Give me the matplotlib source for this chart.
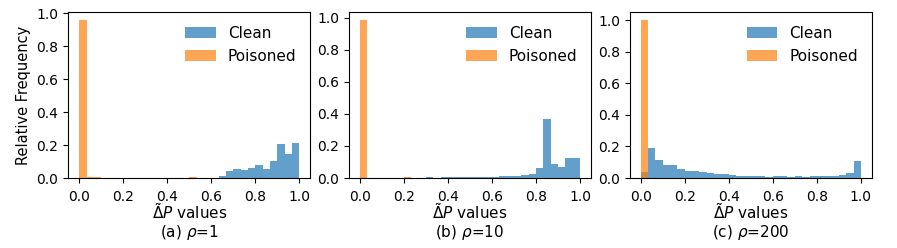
import numpy as np
import matplotlib
matplotlib.use("Agg")
import matplotlib.pyplot as plt

# 30 equal-width bins on [0, 1]
bin_edges = np.linspace(0, 1, 31)

# relative frequencies, one value per bin
clean_rho1 = [0, 0, 0, 0, 0, 0, 0, 0, 0, 0,
              0, 0, 0, 0, 0, 0, 0, 0, 0, 0.014,
              0.044, 0.058, 0.048, 0.064, 0.082, 0.057, 0.104, 0.205, 0.145, 0.21]
poison_rho1 = [0.96, 0.008, 0.006, 0.003, 0.003, 0.002, 0.002, 0.002, 0.002, 0.002,
               0.002, 0.002, 0.002, 0.002, 0.003, 0.004, 0.003, 0, 0, 0,
               0, 0, 0, 0, 0, 0, 0, 0, 0, 0]

clean_rho10 = [0, 0, 0, 0, 0, 0, 0, 0, 0, 0.004,
               0, 0.004, 0.005, 0.005, 0.005, 0.005, 0.005, 0.005, 0.009, 0.01,
               0.012, 0.015, 0.018, 0.024, 0.065, 0.37, 0.09, 0.066, 0.123, 0.123]
poison_rho10 = [0.985, 0, 0.003, 0.003, 0.003, 0.002, 0.006, 0.002, 0, 0,
                0.003, 0, 0, 0, 0, 0, 0, 0, 0, 0,
                0, 0, 0, 0, 0, 0, 0, 0, 0, 0]

clean_rho200 = [0.04, 0.19, 0.115, 0.085, 0.08, 0.055, 0.047, 0.046, 0.037, 0.03,
                0.025, 0.028, 0.022, 0.016, 0.016, 0.012, 0.012, 0.008, 0.012, 0.012,
                0.008, 0.012, 0.008, 0.01, 0.01, 0.015, 0.016, 0.022, 0.03, 0.105]
poison_rho200 = [1.0, 0, 0, 0, 0, 0, 0, 0, 0, 0,
                 0, 0, 0, 0, 0, 0, 0, 0, 0, 0,
                 0, 0, 0, 0, 0, 0, 0, 0, 0, 0]

captions = [r"(a) $\rho$=1", r"(b) $\rho$=10", r"(c) $\rho$=200"]
panels = [(clean_rho1, poison_rho1), (clean_rho10, poison_rho10), (clean_rho200, poison_rho200)]

fig = plt.figure(figsize=(8.97, 2.48), dpi=100)
lefts = [0.076, 0.389, 0.702]

for i, (clean, poison) in enumerate(panels):
    ax = fig.add_axes([lefts[i], 0.282, 0.27, 0.669])
    width = bin_edges[1] - bin_edges[0]
    ax.bar(bin_edges[:-1], clean, width=width, align="edge", color="#1f77b4", alpha=0.7, label="Clean")
    ax.bar(bin_edges[:-1], poison, width=width, align="edge", color="#ff7f0e", alpha=0.7, label="Poisoned")
    ax.set_xticks([0, 0.2, 0.4, 0.6, 0.8, 1.0])
    ax.set_yticks([0, 0.2, 0.4, 0.6, 0.8, 1.0])
    ax.tick_params(labelsize=10)
    ax.tick_params(axis="x", pad=5)
    ax.set_xlabel(r"$\tilde{\Delta}P$ values", fontsize=11, labelpad=-1)
    if i == 0:
        ax.set_ylabel("Relative Frequency", fontsize=10.5)
    ax.legend(loc="upper right", frameon=False, fontsize=11)
    ax.text(0.5, -0.33, captions[i], transform=ax.transAxes, ha="center", va="center", fontsize=11)

fig.savefig("out.png", dpi=100)
